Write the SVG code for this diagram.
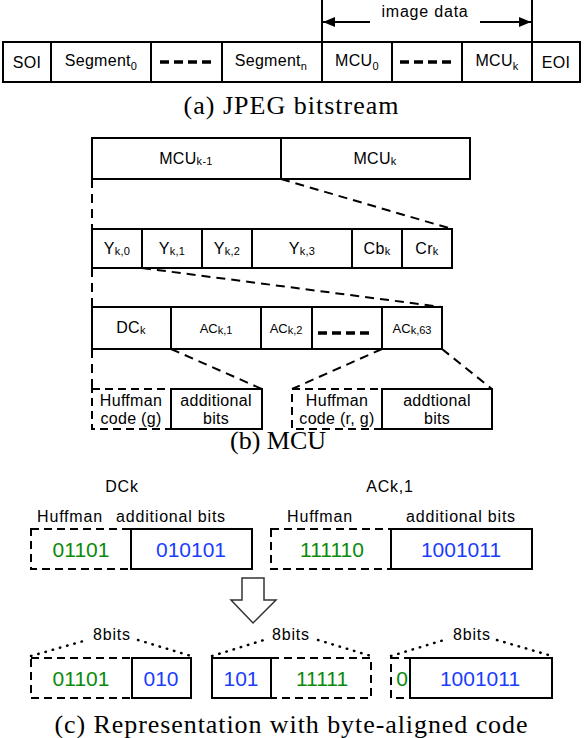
<svg xmlns="http://www.w3.org/2000/svg" width="584" height="738" viewBox="0 0 584 738">
<defs>
<marker id="ah" viewBox="0 0 12 10" refX="12" refY="5" markerWidth="12" markerHeight="10" markerUnits="userSpaceOnUse" orient="auto"><path d="M0,0 L12,5 L0,10 z" fill="#000"/></marker>
<style>
.box{fill:#fff;stroke:#000;stroke-width:2}
.dbox{fill:none;stroke:#000;stroke-width:2;stroke-dasharray:8,5}
.dl{fill:none;stroke:#000;stroke-width:2;stroke-dasharray:9,6}
.dots{fill:none;stroke:#000;stroke-width:2.5;stroke-dasharray:0.5,7;stroke-linecap:round}
.bar{stroke:#000;stroke-width:3.5;stroke-dasharray:9,5}
.t{font-family:"Liberation Sans",Arial,sans-serif;font-size:16px;fill:#000;text-anchor:middle;letter-spacing:0.3px}
.s{font-size:11px}
.sm{font-family:"Liberation Sans",Arial,sans-serif;font-size:13px;fill:#000;text-anchor:middle}
.l{font-family:"Liberation Sans",Arial,sans-serif;font-size:16px;fill:#000;text-anchor:middle;letter-spacing:0.8px}
.g{font-family:"Liberation Sans",Arial,sans-serif;font-size:21px;fill:#0a8a0a;text-anchor:middle}
.b{font-family:"Liberation Sans",Arial,sans-serif;font-size:21px;fill:#1a3cff;text-anchor:middle}
.cap{font-family:"Liberation Serif","Times New Roman",serif;font-size:26px;fill:#000;text-anchor:middle}
</style>
</defs>

<!-- (a) JPEG bitstream -->
<g id="a-soi"><rect class="box" x="3" y="42" width="48" height="40"/><text class="t" x="27" y="68">SOI</text></g>
<g id="a-seg0"><rect class="box" x="51" y="42" width="100" height="40"/><text class="t" x="101" y="66">Segment<tspan class="s" dy="4">0</tspan></text></g>
<g id="a-dots1"><rect class="box" x="151" y="42" width="71" height="40"/><line class="bar" x1="160" y1="62" x2="212" y2="62"/></g>
<g id="a-segn"><rect class="box" x="222" y="42" width="100" height="40"/><text class="t" x="271" y="66">Segment<tspan class="s" dy="4">n</tspan></text></g>
<g id="a-mcu0"><rect class="box" x="322" y="42" width="70" height="40"/><text class="t" x="357" y="66">MCU<tspan class="s" dy="4">0</tspan></text></g>
<g id="a-dots2"><rect class="box" x="392" y="42" width="70" height="40"/><line class="bar" x1="400" y1="62" x2="452" y2="62"/></g>
<g id="a-mcuk"><rect class="box" x="462" y="42" width="70" height="40"/><text class="t" x="497" y="66">MCU<tspan class="s" dy="4">k</tspan></text></g>
<g id="a-eoi"><rect class="box" x="532" y="42" width="48" height="40"/><text class="t" x="556" y="68">EOI</text></g>
<g id="a-imagedata">
<line x1="322" y1="0" x2="322" y2="42" stroke="#000" stroke-width="2"/>
<line x1="532" y1="0" x2="532" y2="42" stroke="#000" stroke-width="2"/>
<line x1="370" y1="22" x2="323" y2="22" stroke="#000" stroke-width="2" marker-end="url(#ah)"/>
<line x1="480" y1="22" x2="531" y2="22" stroke="#000" stroke-width="2" marker-end="url(#ah)"/>
<text class="l" x="425" y="17">image data</text>
</g>
<text class="cap" x="291" y="114" textLength="215" lengthAdjust="spacing">(a) JPEG bitstream</text>

<!-- (b) MCU -->
<g id="connectors">
<line class="dl" x1="92" y1="179" x2="92" y2="229"/>
<line class="dl" x1="281" y1="179" x2="452" y2="229"/>
<line class="dl" x1="92" y1="268" x2="92" y2="307"/>
<line class="dl" x1="142" y1="268" x2="442" y2="307"/>
<line class="dl" x1="92" y1="349" x2="92" y2="389"/>
<line class="dl" x1="171" y1="349" x2="262" y2="389"/>
<line class="dl" x1="382" y1="349" x2="292" y2="389"/>
<line class="dl" x1="442" y1="349" x2="492" y2="389"/>
<polyline class="dots" points="31,656 87,640"/>
<polyline class="dots" points="138,640 191,656"/>
<polyline class="dots" points="212,656 264,640"/>
<polyline class="dots" points="318,640 371,656"/>
<polyline class="dots" points="391,656 444,640"/>
<polyline class="dots" points="497,640 552,656"/>
</g>

<g id="b-mcuk1"><rect class="box" x="92" y="138" width="189" height="41"/><text class="t" x="186" y="164">MCU<tspan class="s" dy="1">k-1</tspan></text></g>
<g id="b-mcuk"><rect class="box" x="281" y="138" width="189" height="41"/><text class="t" x="375" y="164">MCU<tspan class="s" dy="1">k</tspan></text></g>

<g id="b-y0"><rect class="box" x="92" y="229" width="50" height="39"/><text class="t" x="117" y="254">Y<tspan class="s" dy="1">k,0</tspan></text></g>
<g id="b-y1"><rect class="box" x="142" y="229" width="60" height="39"/><text class="t" x="172" y="254">Y<tspan class="s" dy="1">k,1</tspan></text></g>
<g id="b-y2"><rect class="box" x="202" y="229" width="50" height="39"/><text class="t" x="227" y="254">Y<tspan class="s" dy="1">k,2</tspan></text></g>
<g id="b-y3"><rect class="box" x="252" y="229" width="100" height="39"/><text class="t" x="302" y="254">Y<tspan class="s" dy="1">k,3</tspan></text></g>
<g id="b-cb"><rect class="box" x="352" y="229" width="50" height="39"/><text class="t" x="377" y="254">Cb<tspan class="s" dy="1">k</tspan></text></g>
<g id="b-cr"><rect class="box" x="402" y="229" width="50" height="39"/><text class="t" x="427" y="254">Cr<tspan class="s" dy="1">k</tspan></text></g>

<g id="b-dc"><rect class="box" x="92" y="307" width="79" height="42"/><text class="t" x="131" y="333">DC<tspan class="s" dy="1">k</tspan></text></g>
<g id="b-ac1"><rect class="box" x="171" y="307" width="90" height="42"/><text class="sm" x="216" y="333">AC<tspan class="s" dy="1">k,1</tspan></text></g>
<g id="b-ac2"><rect class="box" x="261" y="307" width="51" height="42"/><text class="sm" x="286" y="333">AC<tspan class="s" dy="1">k,2</tspan></text></g>
<g id="b-acdots"><rect class="box" x="312" y="307" width="70" height="42"/><line class="bar" x1="318" y1="333" x2="370" y2="333"/></g>
<g id="b-ac63"><rect class="box" x="382" y="307" width="60" height="42"/><text class="sm" x="412" y="333">AC<tspan class="s" dy="1">k,63</tspan></text></g>

<g id="b-dc-huff"><rect class="dbox" x="92" y="389" width="79" height="40"/><text class="t" x="131" y="406">Huffman</text><text class="t" x="131" y="424">code (g)</text></g>
<g id="b-dc-add"><rect class="box" x="171" y="389" width="91" height="40"/><text class="t" x="216" y="406">additional</text><text class="t" x="216" y="424">bits</text></g>
<g id="b-ac-huff"><rect class="dbox" x="292" y="389" width="90" height="40"/><text class="t" x="337" y="406">Huffman</text><text class="t" x="337" y="424">code (r, g)</text></g>
<g id="b-ac-add"><rect class="box" x="382" y="389" width="110" height="40"/><text class="t" x="437" y="406">addtional</text><text class="t" x="437" y="424">bits</text></g>
<text class="cap" x="278" y="449">(b) MCU</text>

<!-- (c) -->
<text class="l" x="122" y="492">DCk</text>
<text class="l" x="390" y="492">ACk,1</text>
<text class="l" x="70" y="522">Huffman</text>
<text class="l" x="171" y="522">additional bits</text>
<text class="l" x="320" y="522">Huffman</text>
<text class="l" x="461" y="522">additional bits</text>

<g id="c-dc-huff"><rect class="dbox" x="31" y="529" width="100" height="40"/><text class="g" x="81" y="557">01101</text></g>
<g id="c-dc-add"><rect class="box" x="131" y="529" width="121" height="40"/><text class="b" x="191" y="557">010101</text></g>
<g id="c-ac-huff"><rect class="dbox" x="271" y="529" width="120" height="40"/><text class="g" x="332" y="557">111110</text></g>
<g id="c-ac-add"><rect class="box" x="391" y="529" width="141" height="40"/><text class="b" x="461" y="557">1001011</text></g>

<g id="c-arrow"><path d="M242,578 L264,578 L264,600 L276,600 L253,623 L231,600 L242,600 Z" fill="#fff" stroke="#333" stroke-width="1.5"/></g>

<g id="c-byte1">
<rect class="dbox" x="31" y="658" width="101" height="40"/>
<rect class="box" x="132" y="658" width="59" height="40"/>
<text class="g" x="81" y="686">01101</text><text class="b" x="161" y="686">010</text>
<text class="l" x="112" y="640">8bits</text>
</g>
<g id="c-byte2">
<rect class="dbox" x="271" y="658" width="100" height="40"/>
<rect class="box" x="212" y="658" width="59" height="40"/>
<text class="b" x="241" y="686">101</text><text class="g" x="322" y="686">11111</text>
<text class="l" x="291" y="640">8bits</text>
</g>
<g id="c-byte3">
<rect class="dbox" x="391" y="658" width="19" height="40"/>
<rect class="box" x="410" y="658" width="142" height="40"/>
<text class="g" x="402" y="686">0</text><text class="b" x="480" y="686">1001011</text>
<text class="l" x="472" y="640">8bits</text>
</g>
<text class="cap" x="291" y="733" textLength="473" lengthAdjust="spacing">(c) Representation with byte-aligned code</text>
</svg>
